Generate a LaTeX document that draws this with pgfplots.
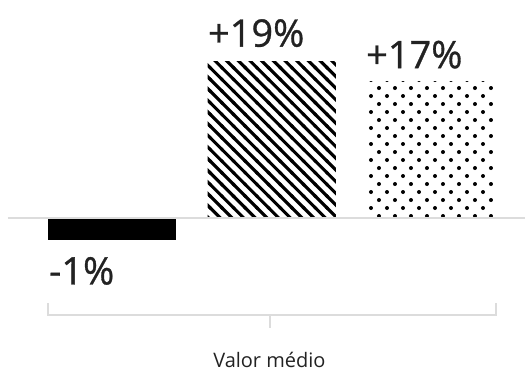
\documentclass[border=0pt]{standalone}
\usepackage{pgfplots}
\pgfplotsset{compat=1.18}
\usetikzlibrary{patterns}
\usepackage{fontspec}
\setmainfont{Open Sans}
\newfontfamily\medfont{Open Sans}[FakeBold=0.8]
\definecolor{txt}{HTML}{222222}
\definecolor{rulec}{HTML}{DCDCDC}
\pgfdeclarepatternformonly{hatchnw}{\pgfqpoint{-2pt}{-2pt}}{\pgfqpoint{13.7pt}{13.7pt}}{\pgfqpoint{11.7pt}{11.7pt}}{%
  \pgfsetlinewidth{3.1pt}%
  \pgfpathmoveto{\pgfqpoint{-1pt}{12.7pt}}%
  \pgfpathlineto{\pgfqpoint{12.7pt}{-1pt}}%
  \pgfusepath{stroke}}
\pgfdeclarepatternformonly{dotgrid}{\pgfqpoint{0pt}{0pt}}{\pgfqpoint{16pt}{16pt}}{\pgfqpoint{16pt}{16pt}}{%
  \pgfpathcircle{\pgfqpoint{4pt}{4pt}}{2pt}%
  \pgfpathcircle{\pgfqpoint{12pt}{12pt}}{2pt}%
  \pgfusepath{fill}}
\begin{document}
\begin{tikzpicture}
\begin{axis}[
  scale only axis, width=526pt, height=372pt,
  xmin=-0.7016, xmax=2.5859, ymin=-18.71, ymax=26.49,
  hide axis, clip=false,
  bar width=0.803,
]
\path (rel axis cs:0,0) rectangle (rel axis cs:1,1);
\addplot[ybar, bar shift=0pt, draw=none, fill=black] coordinates {(0,-2.67)};
\addplot[ybar, bar shift=0pt, draw=none, pattern=hatchnw, pattern color=black] coordinates {(1,19.02)};
\addplot[ybar, bar shift=0pt, draw=none, pattern=dotgrid, pattern color=black] coordinates {(2,16.59)};
\addplot[sharp plot, no marks, rulec, line width=2pt] coordinates {(-0.6516,0) (2.5859,0)};
\addplot[sharp plot, no marks, rulec, line width=2pt] coordinates {(-0.4016,-10.45) (-0.4016,-11.91) (2.403,-11.91) (2.403,-10.45)};
\addplot[sharp plot, no marks, rulec, line width=2pt] coordinates {(0.992,-11.91) (0.992,-13.49)};
\node[anchor=base west, inner sep=0, font=\medfont\fontsize{38}{40}\selectfont, text=txt] at (axis cs:-0.395,-8.14) {-1\%};
\node[anchor=base west, inner sep=0, font=\medfont\fontsize{38}{40}\selectfont, text=txt] at (axis cs:0.6,20.81) {+19\%};
\node[anchor=base west, inner sep=0, font=\medfont\fontsize{38}{40}\selectfont, text=txt] at (axis cs:1.59,18.19) {+17\%};
\node[anchor=base, inner sep=0, font=\fontsize{20}{22}\selectfont, text=txt] at (axis cs:0.985,-18.23) {Valor médio};
\end{axis}
\end{tikzpicture}
\end{document}
